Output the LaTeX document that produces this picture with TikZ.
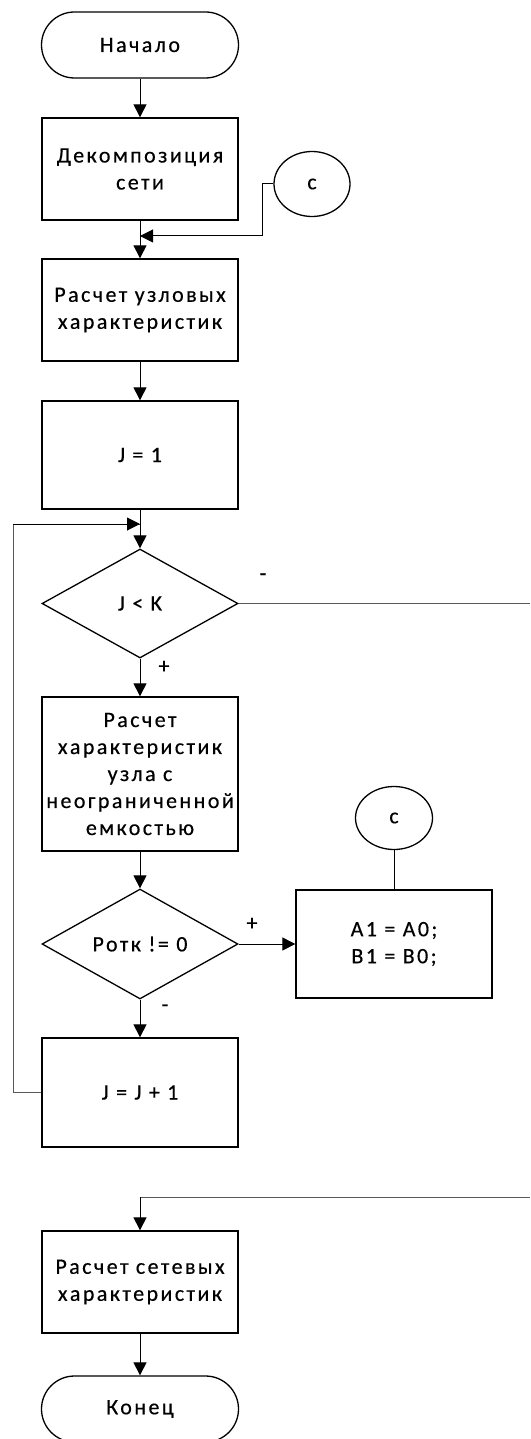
\documentclass[tikz,border=0pt]{standalone}
\usepackage{fontspec}
\setmainfont{Carlito}[LetterSpace=11,FakeBold=0.4]
\usetikzlibrary{shapes.geometric,arrows.meta}
\begin{document}
\begin{tikzpicture}[x=1pt,y=-1pt,
  every node/.style={font=\fontsize{22}{27}\selectfont},
  base/.style={draw=black,line width=1.3pt,inner sep=2pt,align=center},
  proc/.style={base,rectangle,minimum width=196pt},
  term/.style={base,rectangle,rounded corners=33pt,minimum width=197pt,minimum height=66pt},
  conn/.style={base,ellipse,inner sep=0pt},
  decision/.style={base,diamond,inner sep=0pt,minimum width=196pt},
  flow/.style={draw=black,line width=1pt,-{Triangle[length=13pt,width=13pt]}},
  plain/.style={draw=black,line width=1pt},
  thinline/.style={draw=black!65,line width=1pt},
  lbl/.style={inner sep=0pt}
]
\useasboundingbox (0,0) rectangle (530,1439);
\node[term] (start) at (140,45) {Начало};
\node[proc,minimum height=102pt] (decomp) at (140,169) {Декомпозиция\\сети};
\node[conn,minimum width=76pt,minimum height=65pt] (c1) at (312,184) {c};
\node[proc,minimum height=102pt] (calc1) at (140,310) {Расчет узловых\\характеристик};
\node[proc,minimum height=108pt] (j1) at (140,455) {J = 1};
\node[decision,minimum height=109pt] (d1) at (140,603.5) {J < K};
\node[proc,minimum height=154pt] (calc2) at (140,774) {Расчет\\характеристик\\узла с\\неограниченной\\емкостью};
\node[conn,minimum width=77pt,minimum height=63pt] (c2) at (394,818) {c};
\node[decision,minimum height=108pt] (d2) at (140,944) {Ротк != 0};
\node[proc,minimum height=108pt] (a1) at (394,944) {A1 = A0;\\B1 = B0;};
\node[proc,minimum height=109pt] (jj) at (140,1092.5) {J = J + 1};
\node[proc,minimum height=102pt] (calc3) at (140,1282) {Расчет сетевых\\характеристик};
\node[term] (end) at (140,1409) {Конец};

\coordinate (m1) at (140,236);
\coordinate (k1) at (262,184);
\coordinate (k2) at (262,236);
\coordinate (m2) at (140,524);
\coordinate (l1) at (13,1092.5);
\coordinate (l2) at (13,524);
\coordinate (r1) at (530,603.5);
\coordinate (r2) at (530,1197);
\coordinate (m3) at (140,1197);

\draw[flow] (start) -- (decomp);
\draw[flow] (decomp) -- (calc1);
\draw[plain] (c1.west) -- (k1) -- (k2);
\draw[flow] (k2) -- (m1);
\draw[flow] (calc1) -- (j1);
\draw[flow] (j1) -- (d1);
\draw[thinline] (jj.west) -- (l1) -- (l2) -- (m2);
\draw[flow] (l2) -- (m2);
\draw[flow] (d1) -- (calc2);
\draw[thinline] (d1.east) -- (r1);
\draw[flow] (calc2) -- (d2);
\draw[flow] (d2.east) -- (a1.west);
\draw[plain] (c2.south) -- (a1.north);
\draw[flow] (d2) -- (jj);
\draw[thinline] (r2) -- (m3);
\draw[flow] (m3) -- (calc3);
\draw[flow] (calc3) -- (end);

\node[lbl] (minus1) at (263,577) {-};
\node[lbl] (plus1) at (164,667) {+};
\node[lbl] (plus2) at (252,924) {+};
\node[lbl] (minus2) at (165,1008) {-};
\end{tikzpicture}
\end{document}
